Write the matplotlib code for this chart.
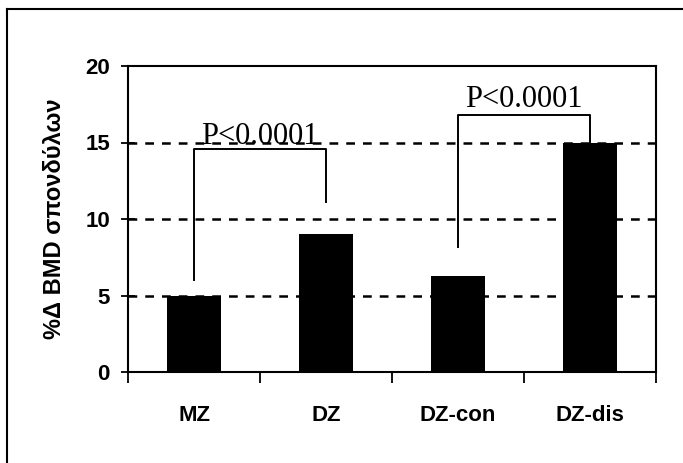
import matplotlib
matplotlib.use("Agg")
import matplotlib.pyplot as plt
from matplotlib.lines import Line2D

# data
groups = ["MZ", "DZ", "DZ-con", "DZ-dis"]
bmd_change = [5.0, 9.0, 6.3, 15.0]
y_ticks = [0, 5, 10, 15, 20]
grid_levels = [5, 10, 15]

# significance brackets: (left bar, right bar, left leg bottom, right leg bottom, top)
brackets = [(0, 1, 6.0, 11.1, 14.6), (2, 3, 8.2, 15.0, 16.8)]
p_labels = ["P<0.0001", "P<0.0001"]
p_label_y = [14.9, 17.35]

sans = ["Liberation Sans", "DejaVu Sans"]

fig = plt.figure(figsize=(6.83, 4.63), dpi=100)
ax = fig.add_axes([128/683, 1-372/463, (656-128)/683, (372-66)/463])

x = list(range(len(groups)))
ax.bar(x, bmd_change, width=0.41, color="black", zorder=3)

for g in grid_levels:
    ax.axhline(g, color="black", lw=1.8, ls=(0, (3.5, 3.2)), zorder=1)

for (i, j, yl, yr, top), lab, ty in zip(brackets, p_labels, p_label_y):
    ax.plot([i, i, j, j], [yl, top, top, yr], color="black", lw=1.4, zorder=4)
    ax.text((i + j) / 2, ty, lab, ha="center", va="baseline",
            family="Liberation Serif", fontsize=22, zorder=5)

ax.set_xlim(-0.5, len(groups) - 0.5)
ax.set_ylim(0, 20)
ax.set_yticks(y_ticks)
ax.set_yticklabels([str(t) for t in y_ticks], family=sans,
                   fontsize=16, fontweight="bold")
ax.tick_params(axis="y", direction="inout", length=10, width=1.3, pad=8)

# category labels centred, ticks between categories
ax.set_xticks(x)
ax.set_xticklabels(groups, family=sans, fontsize=16, fontweight="bold")
ax.tick_params(axis="x", length=0, pad=24)
ax.set_xticks([k - 0.5 for k in range(len(groups) + 1)], minor=True)
ax.tick_params(axis="x", which="minor", direction="out", length=8, width=1.3)

for s in ax.spines.values():
    s.set_linewidth(1.5)

ax.set_ylabel("%Δ BMD σπονδύλων", family=sans, fontsize=17,
              fontweight="bold", labelpad=14)

# outer frame of the picture
fig.add_artist(Line2D([7/683, 7/683], [0, 1-9/463], transform=fig.transFigure,
                      color="black", lw=1.5))
fig.add_artist(Line2D([7/683, 1], [1-9/463, 1-9/463], transform=fig.transFigure,
                      color="black", lw=1.5))

fig.savefig("out.png", dpi=100)
